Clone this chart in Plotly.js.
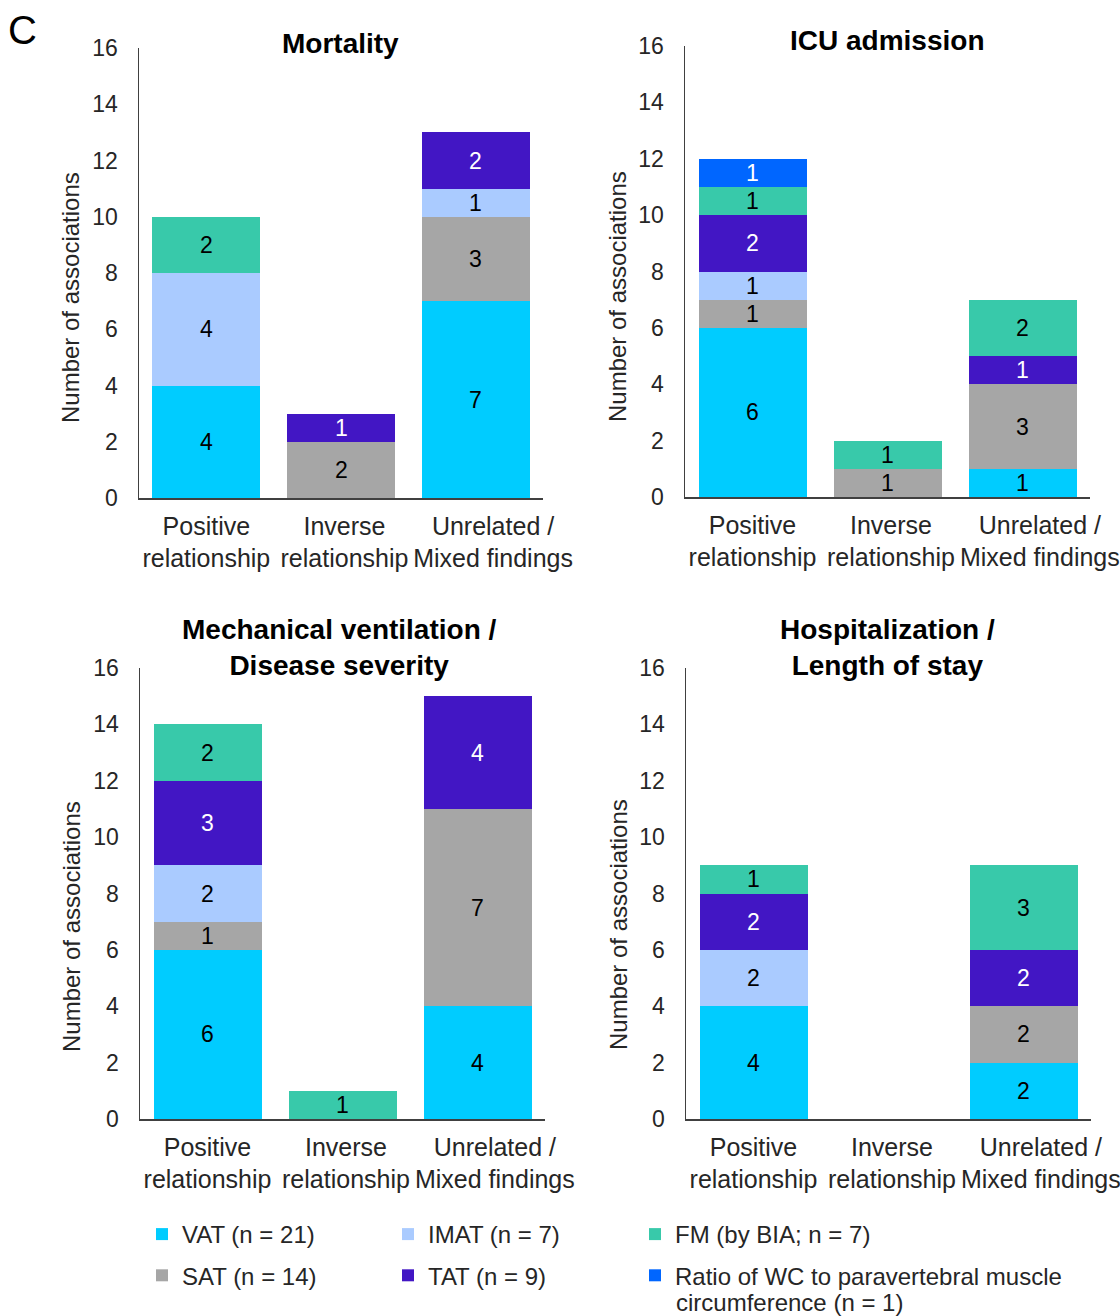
<!DOCTYPE html>
<html>
<head>
<meta charset="utf-8">
<script src="https://cdn.plot.ly/plotly-3.0.1.min.js"></script>
<style>html,body{margin:0;padding:0;background:#fff;}#chart{width:1120px;height:1316px;}</style>
</head>
<body>
<div id="chart"></div>
<script>
// ---- Data ----
const categories = ['Positive relationship', 'Inverse relationship', 'Unrelated / Mixed findings'];
const tickLabels = ['Positive<br>relationship', '\u00a0Inverse<br>\u00a0relationship', '\u00a0\u00a0\u00a0\u00a0\u00a0Unrelated /<br>\u00a0\u00a0\u00a0\u00a0\u00a0Mixed findings'];
const seriesNames = ['VAT (n = 21)', 'SAT (n = 14)', 'IMAT (n = 7)', 'TAT (n = 9)', 'FM (by BIA; n = 7)', 'Ratio of WC to paravertebral muscle<br>circumference (n = 1)'];
const seriesKeys = ['VAT', 'SAT', 'IMAT', 'TAT', 'FM', 'Ratio'];
const panelTitles = ['Mortality', 'ICU admission', 'Mechanical ventilation /<br>Disease severity', 'Hospitalization /<br>Length of stay'];
const yTicks = [0, 2, 4, 6, 8, 10, 12, 14, 16];

// Mortality
const mortVAT   = [4, null, 7];
const mortSAT   = [null, 2, 3];
const mortIMAT  = [4, null, 1];
const mortTAT   = [null, 1, 2];
const mortFM    = [2, null, null];
const mortRatio = [null, null, null];
// ICU admission
const icuVAT   = [6, null, 1];
const icuSAT   = [1, 1, 3];
const icuIMAT  = [1, null, null];
const icuTAT   = [2, null, 1];
const icuFM    = [1, 1, 2];
const icuRatio = [1, null, null];
// Mechanical ventilation / Disease severity
const mvVAT   = [6, null, 4];
const mvSAT   = [1, null, 7];
const mvIMAT  = [2, null, null];
const mvTAT   = [3, null, 4];
const mvFM    = [2, 1, null];
const mvRatio = [null, null, null];
// Hospitalization / Length of stay
const hospVAT   = [4, null, 2];
const hospSAT   = [null, null, 2];
const hospIMAT  = [2, null, null];
const hospTAT   = [2, null, 2];
const hospFM    = [1, null, 3];
const hospRatio = [null, null, null];

// ---- Styles ----
const colors = {VAT:'#00CCFF', SAT:'#A6A6A6', IMAT:'#AACBFF', TAT:'#4216C4', FM:'#38C9AA', Ratio:'#0066FF'};
const textColors = {VAT:'#000', SAT:'#000', IMAT:'#000', TAT:'#fff', FM:'#000', Ratio:'#fff'};
const legendOf = {VAT:'legend', SAT:'legend', IMAT:'legend2', TAT:'legend2', FM:'legend3', Ratio:'legend3'};
const FONT = '"Liberation Sans", Arial, sans-serif';

const panels = [
  {data:{VAT:mortVAT, SAT:mortSAT, IMAT:mortIMAT, TAT:mortTAT, FM:mortFM, Ratio:mortRatio}},
  {data:{VAT:icuVAT, SAT:icuSAT, IMAT:icuIMAT, TAT:icuTAT, FM:icuFM, Ratio:icuRatio}},
  {data:{VAT:mvVAT, SAT:mvSAT, IMAT:mvIMAT, TAT:mvTAT, FM:mvFM, Ratio:mvRatio}},
  {data:{VAT:hospVAT, SAT:hospSAT, IMAT:hospIMAT, TAT:hospTAT, FM:hospFM, Ratio:hospRatio}}
];

const W = 1120, H = 1316;
const px = v => v / W;
const py = v => 1 - v / H;
// pixel geometry of panels: [xLeft, xRight, yTop(16), yBottom(0)]
const geom = [
  [139, 543, 48, 498],
  [685, 1090, 46, 497],
  [140, 545, 668, 1119],
  [686, 1091, 668, 1119]
];
const titlePos = [[340, 43], [887, 41], [339, 647], [887, 647]];
const yTitlePos = [[70, 298], [617, 297], [71, 927], [618, 925]];

const traces = [];
const annotations = [];
const layout = {
  width: W, height: H,
  margin: {l:0, r:0, t:0, b:0, autoexpand: false},
  paper_bgcolor: '#fff', plot_bgcolor: '#fff',
  barmode: 'stack', bargap: 0.2,
  font: {family: FONT, color: '#262626', size: 24},
  showlegend: true,
  annotations: annotations
};

panels.forEach((p, i) => {
  const n = i + 1;
  const xa = 'x' + (n === 1 ? '' : n), ya = 'y' + (n === 1 ? '' : n);
  const g = geom[i];
  layout['xaxis' + (n === 1 ? '' : n)] = {
    domain: [px(g[0]), px(g[1])], anchor: ya,
    type: 'category', categoryorder: 'array', categoryarray: categories,
    tickvals: categories, ticktext: tickLabels,
    showline: true, linecolor: '#404040', linewidth: 1.5,
    ticks: '', showgrid: false, zeroline: false, fixedrange: true,
    tickangle: 0, automargin: false,
    tickfont: {family: FONT, size: 25, color: '#262626'},
    ticklabelstandoff: 5
  };
  layout['yaxis' + (n === 1 ? '' : n)] = {
    domain: [py(g[3]), py(g[2])], anchor: xa,
    range: [0, 16], tickvals: yTicks,
    showline: true, linecolor: '#404040', linewidth: 1.5,
    ticks: '', showgrid: false, zeroline: false, fixedrange: true,
    automargin: false,
    tickfont: {family: FONT, size: 23, color: '#262626'},
    ticklabelstandoff: 15
  };
  const cum = [0, 0, 0];
  seriesKeys.forEach((k, si) => {
    const vals = p.data[k];
    traces.push({
      type: 'bar', x: categories, y: vals, xaxis: xa, yaxis: ya,
      name: seriesNames[si].split('<br>')[0], legendgroup: k, showlegend: i === 0,
      legend: legendOf[k],
      marker: {color: colors[k], line: {width: 0}},
      hoverinfo: 'skip'
    });
    vals.forEach((v, ci) => {
      if (v) {
        annotations.push({
          xref: xa, yref: ya, x: categories[ci], y: cum[ci] + v / 2,
          text: String(v), showarrow: false,
          font: {family: FONT, size: 23, color: textColors[k]}
        });
        cum[ci] += v;
      }
    });
  });
  annotations.push({
    xref: 'paper', yref: 'paper', x: px(titlePos[i][0]), y: py(titlePos[i][1]),
    xanchor: 'center', yanchor: 'middle', showarrow: false,
    text: '<b>' + panelTitles[i].replace('<br>', '</b><br><b>') + '</b>',
    font: {family: FONT, size: 28, color: '#000'}
  });
  annotations.push({
    xref: 'paper', yref: 'paper', x: px(yTitlePos[i][0]), y: py(yTitlePos[i][1]),
    xanchor: 'center', yanchor: 'middle', showarrow: false, textangle: -90,
    text: 'Number of associations',
    font: {family: FONT, size: 24, color: '#262626'}
  });
});

// second line of the long legend entry (tighter line spacing than the legend allows)
annotations.push({
  xref: 'paper', yref: 'paper', x: px(674), y: py(1302),
  xanchor: 'left', yanchor: 'middle', showarrow: false,
  text: seriesNames[5].split('<br>')[1],
  font: {family: FONT, size: 24, color: '#262626'}
});

annotations.push({
  xref: 'paper', yref: 'paper', x: px(22), y: py(30),
  xanchor: 'center', yanchor: 'middle', showarrow: false,
  text: 'C', font: {family: FONT, size: 40, color: '#000'}
});

const legBase = {
  orientation: 'v', yanchor: 'top', xanchor: 'left',
  y: py(1212), bgcolor: 'rgba(0,0,0,0)',
  font: {family: FONT, size: 24, color: '#262626'},
  tracegroupgap: 7, valign: 'top', itemclick: false, itemdoubleclick: false
};
layout.legend  = Object.assign({}, legBase, {x: px(142)});
layout.legend2 = Object.assign({}, legBase, {x: px(388)});
layout.legend3 = Object.assign({}, legBase, {x: px(635)});

Plotly.newPlot('chart', traces, layout, {staticPlot: true, displayModeBar: false});
</script>
</body>
</html>
